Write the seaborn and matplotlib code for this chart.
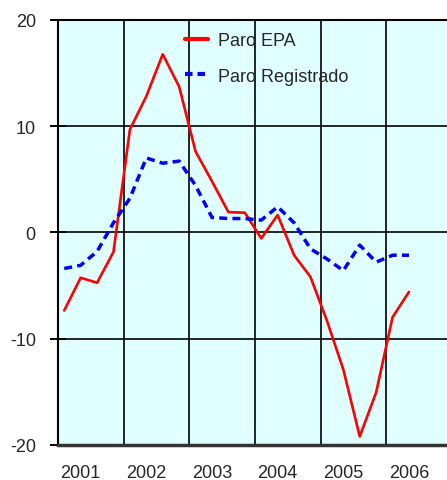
import numpy as np
import pandas as pd
import seaborn as sns
import matplotlib.pyplot as plt
from matplotlib.lines import Line2D

years = [2001, 2002, 2003, 2004, 2005, 2006]
quarters_per_year = 4

paro_epa = [-7.35, -4.27, -4.74, -1.84,
            9.67, 12.8, 16.75, 13.7,
            7.6, 4.8, 1.9, 1.85,
            -0.57, 1.63, -2.15, -4.2,
            -8.3, -12.9, -19.2, -15.05,
            -7.98, -5.6]
paro_registrado = [-3.4, -3.1, -1.8, 0.9,
                   3.2, 7.0, 6.5, 6.7,
                   4.4, 1.4, 1.3, 1.3,
                   1.15, 2.4, 0.9, -1.55,
                   -2.5, -3.6, -1.2, -2.8,
                   -2.15, -2.15]
labels = ["Paro EPA", "Paro Registrado"]

# quarter positions: year index + offset inside each year band
n = len(paro_epa)
xpos = [years[0] + 0.095 + i / quarters_per_year for i in range(n)]
df = pd.DataFrame({"x": xpos, "epa": paro_epa, "reg": paro_registrado})

sns.set_style("white")
plt.rcParams["font.family"] = ["Liberation Sans", "DejaVu Sans"]

fig = plt.figure(figsize=(4.47, 4.81), dpi=100)
ax = fig.add_axes([58 / 447, 35 / 481, 394 / 447, 425.3 / 481])
ax.set_facecolor("#E0FFFF")

sns.lineplot(data=df, x="x", y="epa", ax=ax, color="#FF0000", lw=1.9)
sns.lineplot(data=df, x="x", y="reg", ax=ax, color="#0000FF", lw=2.5,
             linestyle=(0, (2.3, 1.5)))

ax.set_xlim(2001, 2007)
ax.set_ylim(-20, 20)

for yr in years[1:] + [2007]:
    ax.axvline(yr, color="black", lw=1.2, zorder=1)
for yv in [-10, 0, 10]:
    ax.axhline(yv, color="black", lw=1.2, zorder=1)

ax.set_yticks([-20, -10, 0, 10, 20])
ax.set_yticklabels(["-20", "-10", "0", "10", "20"])
ax.tick_params(axis="y", direction="inout", length=12, width=1.4,
               color="black", labelsize=13, pad=10, left=True)
ax.set_xticks([y + 0.345 for y in years])
ax.set_xticklabels([str(y) for y in years])
ax.tick_params(axis="x", length=0, labelsize=13, pad=14)

for side in ["left", "top", "right"]:
    ax.spines[side].set_color("black")
    ax.spines[side].set_linewidth(1.5)
ax.spines["bottom"].set_color("#333333")
ax.spines["bottom"].set_linewidth(2.5)

ax.set_xlabel("")
ax.set_ylabel("")

handles = [Line2D([], [], color="#FF0000", lw=3),
           Line2D([], [], color="#0000FF", lw=3, linestyle=(0, (1.8, 1.2)))]
ax.legend(handles, labels, loc="upper left", bbox_to_anchor=(185 / 447, 0.931),
          bbox_transform=fig.transFigure, frameon=False, fontsize=13,
          handlelength=1.25, handletextpad=0.6, labelspacing=1.02,
          borderpad=0, borderaxespad=0)

fig.savefig("out.png", dpi=100)
